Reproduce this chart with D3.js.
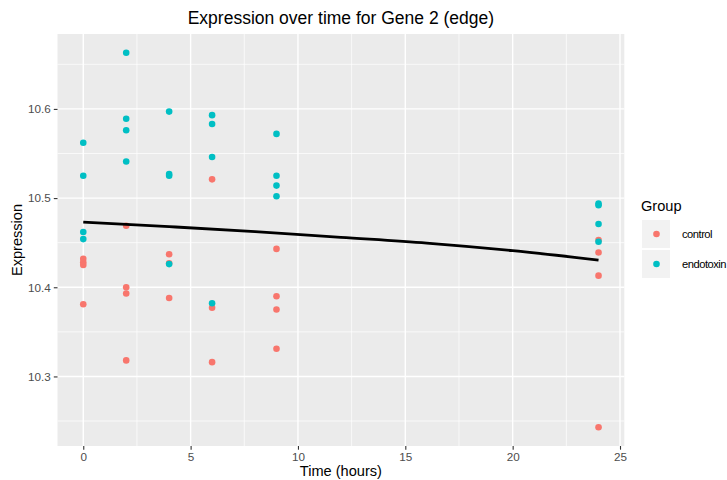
<!DOCTYPE html>
<html>
<head>
<meta charset="utf-8">
<script src="https://cdn.jsdelivr.net/npm/d3@7"></script>
<style>
body { margin: 0; background: #fff; }
text { font-family: "Liberation Sans", Arial, sans-serif; }
</style>
</head>
<body>
<svg id="chart" width="727" height="480"></svg>
<script>
'use strict';
//Data.
const groups = ['control', 'endotoxin'];
const groupColors = ['#F8766D', '#00BFC4'];
const ctrlTime = [0, 0, 0, 0, 2, 2, 2, 2, 4, 4, 4, 6, 6, 6, 9, 9, 9, 9, 24, 24, 24, 24];
const ctrlExpr = [10.432, 10.428, 10.425, 10.381, 10.469, 10.400, 10.393, 10.318,
	10.437, 10.427, 10.388, 10.521, 10.377, 10.316, 10.443, 10.390, 10.375, 10.331,
	10.453, 10.439, 10.413, 10.243];
const endoTime = [0, 0, 0, 0, 2, 2, 2, 2, 4, 4, 4, 4, 6, 6, 6, 6, 9, 9, 9, 9, 24, 24, 24, 24];
const endoExpr = [10.562, 10.525, 10.462, 10.454, 10.663, 10.589, 10.576, 10.541,
	10.597, 10.527, 10.525, 10.426, 10.593, 10.583, 10.546, 10.382,
	10.572, 10.525, 10.514, 10.502, 10.494, 10.492, 10.471, 10.451];
//Fitted trend line.
const fitTime = [0, 4, 8, 12, 16, 20, 24];
const fitExpr = [10.473, 10.468, 10.4625, 10.456, 10.4495, 10.441, 10.4305];
const xTicks = [0, 5, 10, 15, 20, 25];
const yTicks = [10.3, 10.4, 10.5, 10.6];

const svg = d3.select('#chart');
const pL = 57.5, pR = 624.3, pT = 34, pB = 446;

//ggplot style 5% expansion.
const xExt = d3.extent(ctrlTime.concat(endoTime));
const yExt = d3.extent(ctrlExpr.concat(endoExpr));
const xPad = (xExt[1] - xExt[0]) * 0.05;
const yPad = (yExt[1] - yExt[0]) * 0.05;
const x = d3.scaleLinear().domain([xExt[0] - xPad, xExt[1] + xPad]).range([pL, pR]);
const y = d3.scaleLinear().domain([yExt[0] - yPad, yExt[1] + yPad]).range([pB, pT]);

//Panel background.
svg.append('rect')
	.attr('x', pL).attr('y', pT)
	.attr('width', pR - pL).attr('height', pB - pT)
	.style('fill', '#EBEBEB');

//Minor grid lines.
const xMinor = [2.5, 7.5, 12.5, 17.5, 22.5];
const yMinor = [10.25, 10.35, 10.45, 10.55, 10.65];
svg.append('g').selectAll('line').data(xMinor).join('line')
	.attr('x1', d => x(d)).attr('x2', d => x(d))
	.attr('y1', pT).attr('y2', pB)
	.style('stroke', '#fff').style('stroke-width', 0.7);
svg.append('g').selectAll('line').data(yMinor).join('line')
	.attr('x1', pL).attr('x2', pR)
	.attr('y1', d => y(d)).attr('y2', d => y(d))
	.style('stroke', '#fff').style('stroke-width', 0.7);
//Major grid lines.
svg.append('g').selectAll('line').data(xTicks).join('line')
	.attr('x1', d => x(d)).attr('x2', d => x(d))
	.attr('y1', pT).attr('y2', pB)
	.style('stroke', '#fff').style('stroke-width', 1.4);
svg.append('g').selectAll('line').data(yTicks).join('line')
	.attr('x1', pL).attr('x2', pR)
	.attr('y1', d => y(d)).attr('y2', d => y(d))
	.style('stroke', '#fff').style('stroke-width', 1.4);

//Axes.
const xAxis = svg.append('g')
	.attr('transform', `translate(0,${pB})`)
	.call(d3.axisBottom(x).tickValues(xTicks).tickSize(3.7).tickPadding(3));
const yAxis = svg.append('g')
	.attr('transform', `translate(${pL},0)`)
	.call(d3.axisLeft(y).tickValues(yTicks).tickFormat(d3.format('.1f')).tickSize(3.7).tickPadding(3));
[xAxis, yAxis].forEach(a => {
	a.select('.domain').remove();
	a.selectAll('.tick line').style('stroke', '#333').style('stroke-width', 1.1);
	a.selectAll('.tick text')
		.style('fill', '#4D4D4D')
		.style('font-size', '11.7px')
		.style('font-family', '"Liberation Sans", Arial, sans-serif');
});

//Points.
const pts = svg.append('g');
pts.selectAll('circle.ctrl').data(d3.zip(ctrlTime, ctrlExpr)).join('circle')
	.attr('class', 'ctrl')
	.attr('cx', d => x(d[0])).attr('cy', d => y(d[1]))
	.attr('r', 3.3).style('fill', groupColors[0]);
pts.selectAll('circle.endo').data(d3.zip(endoTime, endoExpr)).join('circle')
	.attr('class', 'endo')
	.attr('cx', d => x(d[0])).attr('cy', d => y(d[1]))
	.attr('r', 3.3).style('fill', groupColors[1]);

//Trend line.
const line = d3.line()
	.x(d => x(d[0])).y(d => y(d[1]))
	.curve(d3.curveMonotoneX);
svg.append('path')
	.datum(d3.zip(fitTime, fitExpr))
	.attr('d', line)
	.style('fill', 'none')
	.style('stroke', '#000')
	.style('stroke-width', 2.8);

//Titles.
svg.append('text')
	.attr('x', (pL + pR) / 2).attr('y', 24)
	.attr('text-anchor', 'middle')
	.style('font-size', '17.5px')
	.text('Expression over time for Gene 2 (edge)');
svg.append('text')
	.attr('x', (pL + pR) / 2).attr('y', 476)
	.attr('text-anchor', 'middle')
	.style('font-size', '14.6px')
	.text('Time (hours)');
svg.append('text')
	.attr('transform', `translate(22,${(pT + pB) / 2}) rotate(-90)`)
	.attr('text-anchor', 'middle')
	.style('font-size', '14.6px')
	.text('Expression');

//Legend.
const lg = svg.append('g').attr('transform', 'translate(641,0)');
lg.append('text')
	.attr('x', 0).attr('y', 211)
	.style('font-size', '14.6px')
	.text('Group');
const keys = lg.selectAll('g.key').data(groups).join('g')
	.attr('class', 'key')
	.attr('transform', (d, i) => `translate(0,${220 + i * 30})`);
keys.append('rect')
	.attr('x', 1).attr('y', 0)
	.attr('width', 28).attr('height', 28)
	.style('fill', '#F2F2F2');
keys.append('circle')
	.attr('cx', 15.5).attr('cy', 14)
	.attr('r', 3.3)
	.style('fill', (d, i) => groupColors[i]);
keys.append('text')
	.attr('x', 41).attr('y', 18)
	.style('font-size', '11.2px')
	.style('letter-spacing', '-0.5px')
	.text(d => d);
</script>
</body>
</html>
